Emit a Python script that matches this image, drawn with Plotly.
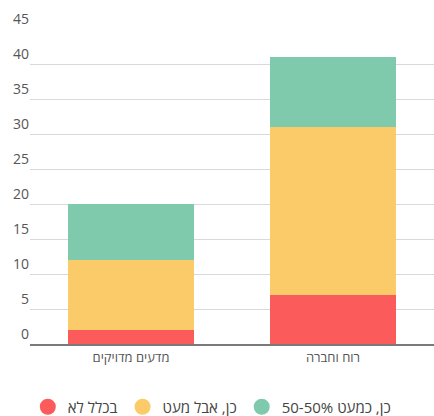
import plotly.graph_objects as go

# Survey results per faculty group
categories = ["מדעים מדויקים", "רוח וחברה"]
series_names = ["בכלל לא", "כן, אבל מעט", "כן, כמעט 50-50%"]
not_at_all = [2, 7]
yes_little = [10, 24]
almost_half = [8, 10]
series_values = [not_at_all, yes_little, almost_half]
colors = ["#FC5B5C", "#FCCB69", "#7FC9AD"]
y_ticks = [0, 5, 10, 15, 20, 25, 30, 35, 40, 45]

font_family = "Open Sans, DejaVu Sans, sans-serif"

fig = go.Figure()

for name, vals, col in zip(series_names, series_values, colors):
    fig.add_trace(go.Bar(
        x=categories, y=vals, name=name, marker=dict(color=col, line=dict(width=0)),
        showlegend=False, hoverinfo="y",
    ))

# Round legend markers
for name, col in zip(series_names, colors):
    fig.add_trace(go.Scatter(
        x=[None], y=[None], mode="markers", name=name,
        marker=dict(symbol="circle", size=16, color=col),
        showlegend=True,
    ))

fig.update_layout(
    width=434, height=416,
    barmode="stack", bargap=0.38,
    paper_bgcolor="white", plot_bgcolor="white",
    margin=dict(l=30, r=0, t=29, b=72, autoexpand=False),
    font=dict(family=font_family, color="#555555", size=13),
    legend=dict(
        orientation="h", x=0.45, xanchor="center", y=-0.2, yanchor="middle",
        font=dict(size=15, color="#444444"), itemsizing="trace",
        traceorder="normal", itemwidth=30,
    ),
    xaxis=dict(
        showline=True, linecolor="#7a7a7a", linewidth=2,
        showgrid=False, ticks="", tickfont=dict(size=13, color="#555555"),
    ),
    yaxis=dict(
        range=[0, 45], tickmode="array", tickvals=y_ticks,
        ticktext=[str(v) for v in y_ticks],
        ticklabelposition="outside top",
        showgrid=True, gridcolor="#d9d9d9", gridwidth=1,
        zeroline=False, showline=False, ticks="",
        tickfont=dict(size=14, color="#555555"),
    ),
)

fig.write_html("out.html")
